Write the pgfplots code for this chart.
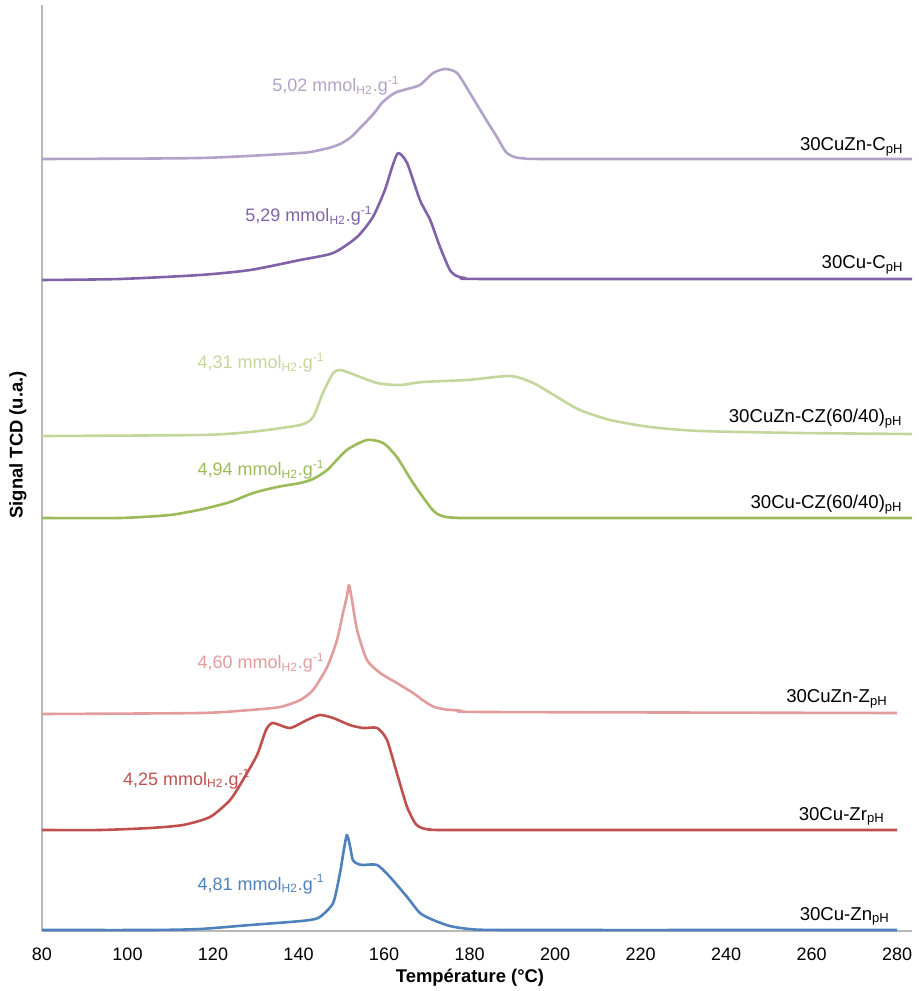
\documentclass[border=0pt]{standalone}
\usepackage{pgfplots}
\pgfplotsset{compat=1.18}
\usepackage{fontspec}
\setmainfont{Liberation Sans}
\definecolor{cA}{HTML}{B3A2C7}
\definecolor{cB}{HTML}{7F62A8}
\definecolor{cC}{HTML}{C3D69B}
\definecolor{cD}{HTML}{9BBB59}
\definecolor{cE}{HTML}{E29C9B}
\definecolor{cF}{HTML}{C0504D}
\definecolor{cG}{HTML}{4F81BD}
\newcommand{\mm}[1]{#1 mmol\textsubscript{H2}.g\textsuperscript{-1}}
\begin{document}
\begin{tikzpicture}
\begin{axis}[name=ax, scale only axis, width=435pt, height=463pt,
  xmin=80, xmax=283.5, ymin=-1, ymax=925,
  axis x line=bottom, axis y line=left,
  axis line style={draw=black!28, line width=0.7pt, -},
  xtick={80,100,...,280}, ytick=\empty, major tick length=0pt,
  /pgf/number format/assume math mode=true,
  ticklabel style={font=\fontsize{9}{11}\selectfont},
  xticklabel style={yshift=-5pt},
  xlabel={\textbf{Température (°C)}}, ylabel={\textbf{Signal TCD (u.a.)}},
  label style={font=\fontsize{9.2}{11}\selectfont, inner sep=0pt},
  xlabel style={at={(axis description cs:0.492,0)}, anchor=center, yshift=-23.5pt},
  ylabel style={at={(axis description cs:-0.0276,0.525)}, anchor=center},
  every axis plot/.append style={line width=1.3pt, smooth, tension=0.4, line join=round, no markers},
  clip=false]
% 30CuZn-C
\addplot[cA] coordinates {(80,771)(117,772)(140.4,777)(144.5,779.5)(147.5,782.5)(150,786.5)(152.3,793)(154.4,802)(156.0,809)(157.9,818)(159.5,827)(161.4,834)(163.0,838)(165.4,841)(168.4,845)(171.5,857)(174.3,861)(177.1,857)(180.1,837)(183.2,815)(186.4,793)(188.5,778)(190.5,773)(193,771.5)(200,771)(283.5,771)};
% 30Cu-C
\addplot[cB] coordinates {(80,650)(98.2,651)(117,655)(128.7,660)(140.4,670)(148.1,677)(153.7,693)(157.4,713)(160.2,740)(161.9,763)(163.3,777)(165.4,767)(168.4,730)(170.8,710)(173.1,683)(175.4,660)(177,654)(179,652)(185,651)(283.5,651)};
% 30CuZn-CZ(60/40)
\addplot[cC] coordinates {(80,494)(117,495)(128.7,498)(140.4,505)(143.4,513)(145.7,537)(148.1,557)(149.7,560)(152.0,557)(158.4,547)(163.7,545)(169.1,548)(179.4,550)(189.5,554)(194.9,547)(200.5,533)(205.8,520)(212.9,510)(222.2,503)(233.9,499)(257.3,497)(283.5,496)};
% 30Cu-CZ(60/40)
\addplot[cD] coordinates {(80,412)(98.2,412)(109.9,415)(117.7,421)(124.0,428)(129.4,437)(135.0,443)(140.4,447)(143.4,451)(146.7,460)(151.3,480)(156.0,490)(159.8,487)(163.0,473)(166.8,447)(170.8,423)(172.5,416)(174.5,413)(177,412.3)(183,412)(283.5,412)};
% 30CuZn-Z
\addplot[cE] coordinates {(80,216)(117,217)(128.7,220)(135.7,223)(140.4,230)(143.4,240)(146.7,263)(149.0,290)(150.4,317)(151.3,333)(151.8,345)(152.5,330)(153.7,300)(156.0,270)(159.1,257)(163.0,247)(166.8,237)(169,230)(171.5,223.5)(174,220.8)(178,219.3)(184,218)(280,217)};
% 30Cu-Zr
\addplot[cF] coordinates {(80,100)(93.6,100)(105.3,102)(113.0,105)(119.3,113)(124.0,130)(127.0,150)(130.3,175)(132.4,200)(134.0,207)(138.0,202)(142.0,210)(145.0,215)(148.1,212)(152.0,205)(155.1,202)(158.4,202)(160.7,190)(163.0,157)(165.4,123)(167.4,106)(169,101.8)(171,100.4)(178,100)(280,100)};
% 30Cu-Zn
\addplot[cG] coordinates {(80,0)(105.3,0)(117,1)(128.7,5)(138.0,8)(142.7,10)(145.0,13)(148.1,27)(149.7,57)(150.6,80)(151.3,95)(152.0,85)(152.7,70)(153.9,66)(155.1,65)(158.4,65)(161.4,53)(165.4,33)(168.4,17)(171.5,10)(175.4,4)(180.1,1)(190,0)(280,0)};
% curve names
\begin{scope}[every node/.style={font=\fontsize{9.3}{11}\selectfont, anchor=base east, inner sep=0pt}]
\node at (axis cs:281.6,779) {30CuZn-C\textsubscript{pH}};
\node at (axis cs:281.6,661) {30Cu-C\textsubscript{pH}};
\node at (axis cs:281.4,507) {30CuZn-CZ(60/40)\textsubscript{pH}};
\node at (axis cs:281.4,421) {30Cu-CZ(60/40)\textsubscript{pH}};
\node at (axis cs:277.9,227) {30CuZn-Z\textsubscript{pH}};
\node at (axis cs:277.2,110) {30Cu-Zr\textsubscript{pH}};
\node at (axis cs:278.4,10) {30Cu-Zn\textsubscript{pH}};
\end{scope}
% amounts
\begin{scope}[every node/.style={font=\fontsize{9}{11}\selectfont, anchor=base west, inner sep=0pt}]
\node[text=cA] at (axis cs:133.8,838) {\mm{5,02}};
\node[text=cB] at (axis cs:127.5,708) {\mm{5,29}};
\node[text=cC] at (axis cs:116.3,561) {\mm{4,31}};
\node[text=cD] at (axis cs:116.3,454) {\mm{4,94}};
\node[text=cE] at (axis cs:116.3,261) {\mm{4,60}};
\node[text=cF] at (axis cs:98.9,145) {\mm{4,25}};
\node[text=cG] at (axis cs:116.3,40) {\mm{4,81}};
\end{scope}
\end{axis}
\path ([shift={(-21pt,-30pt)}]ax.south west) rectangle ([shift={(1pt,2.5pt)}]ax.north east);
\end{tikzpicture}
\end{document}
